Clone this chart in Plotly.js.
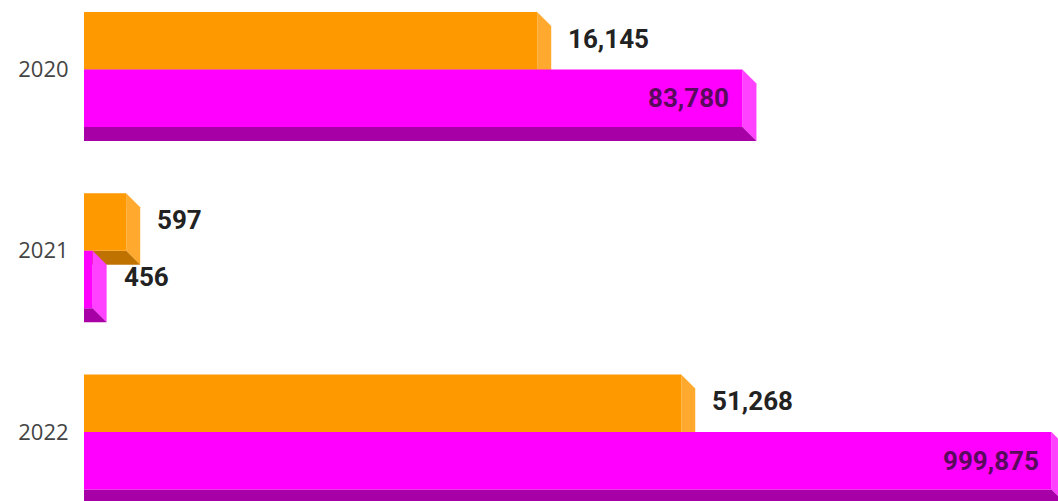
<!DOCTYPE html>
<html>
<head>
<meta charset="utf-8">
<script src="https://cdn.plot.ly/plotly-3.0.1.min.js"></script>
<style>html,body{margin:0;padding:0;background:#fff;}#chart{width:1058px;height:501px;}</style>
</head>
<body>
<div id="chart"></div>
<script>
const categories = ['2020', '2021', '2022'];
const orangeValues = [16145, 597, 51268];
const magentaValues = [83780, 456, 999875];

const yPos = categories.map((c, i) => i);

// style constants
const W = 0.3172;          // bar thickness in category units
const D = 14;              // 3D depth in pixels
const H = 501;
const yRange = [2.3807, -0.3834];
const dd = D * Math.abs(yRange[0] - yRange[1]) / H; // depth in y data units

const series = [
  {values: orangeValues, offset: -W, front: '#FF9900', side: '#FFAA2E', bottom: '#C07200', inside: false},
  {values: magentaValues, offset: 0, front: '#FF00FF', side: '#FF42FF', bottom: '#A600A6', inside: true}
];

const traces = series.map(s => ({
  type: 'bar',
  orientation: 'h',
  x: s.values,
  y: yPos,
  width: W,
  offset: s.offset,
  marker: {color: s.front, line: {width: 0}},
  hoverinfo: 'none'
}));

const shapes = [];
const annotations = [];
series.forEach(s => {
  s.values.forEach((v, i) => {
    const top = yPos[i] + s.offset;
    const bot = top + W;
    shapes.push({
      type: 'path', xref: 'x', yref: 'y', xsizemode: 'pixel', xanchor: v, layer: 'below',
      path: `M0,${top} L${D},${top + dd} L${D},${bot + dd} L0,${bot} Z`,
      fillcolor: s.side, line: {width: 0}
    });
    shapes.push({
      type: 'path', xref: 'x', yref: 'y', xsizemode: 'pixel', xanchor: v, layer: 'below',
      path: `M-3000,${bot} L0,${bot} L${D},${bot + dd} L${-3000 + D},${bot + dd} Z`,
      fillcolor: s.bottom, line: {width: 0}
    });
    const inside = s.inside && v >= 10000;
    annotations.push({
      x: Math.log10(v), y: top + W / 2, xref: 'x', yref: 'y',
      text: v.toLocaleString('en-US'), showarrow: false,
      xanchor: inside ? 'right' : 'left',
      xshift: inside ? -11 : 29,
      yshift: inside ? 0 : 2,
      font: {family: 'Roboto', size: 26, weight: 700, color: inside ? '#5a0a5c' : '#222222'}
    });
  });
});

const layout = {
  width: 1058, height: H,
  margin: {l: 84, r: 0, t: 0, b: 0, pad: 0},
  paper_bgcolor: '#ffffff', plot_bgcolor: '#ffffff',
  showlegend: false,
  barmode: 'overlay',
  xaxis: {type: 'log', range: [2.6289, 6.0226], visible: false, fixedrange: true},
  yaxis: {
    range: yRange, tickvals: yPos, ticktext: categories,
    showgrid: false, zeroline: false, showline: false,
    ticks: 'outside', ticklen: 10, tickcolor: 'rgba(0,0,0,0)',
    tickfont: {family: 'Open Sans', size: 22, color: '#444444'},
    fixedrange: true
  },
  shapes: shapes,
  annotations: annotations
};

Plotly.newPlot('chart', traces, layout, {displayModeBar: false, staticPlot: true});
</script>
</body>
</html>
